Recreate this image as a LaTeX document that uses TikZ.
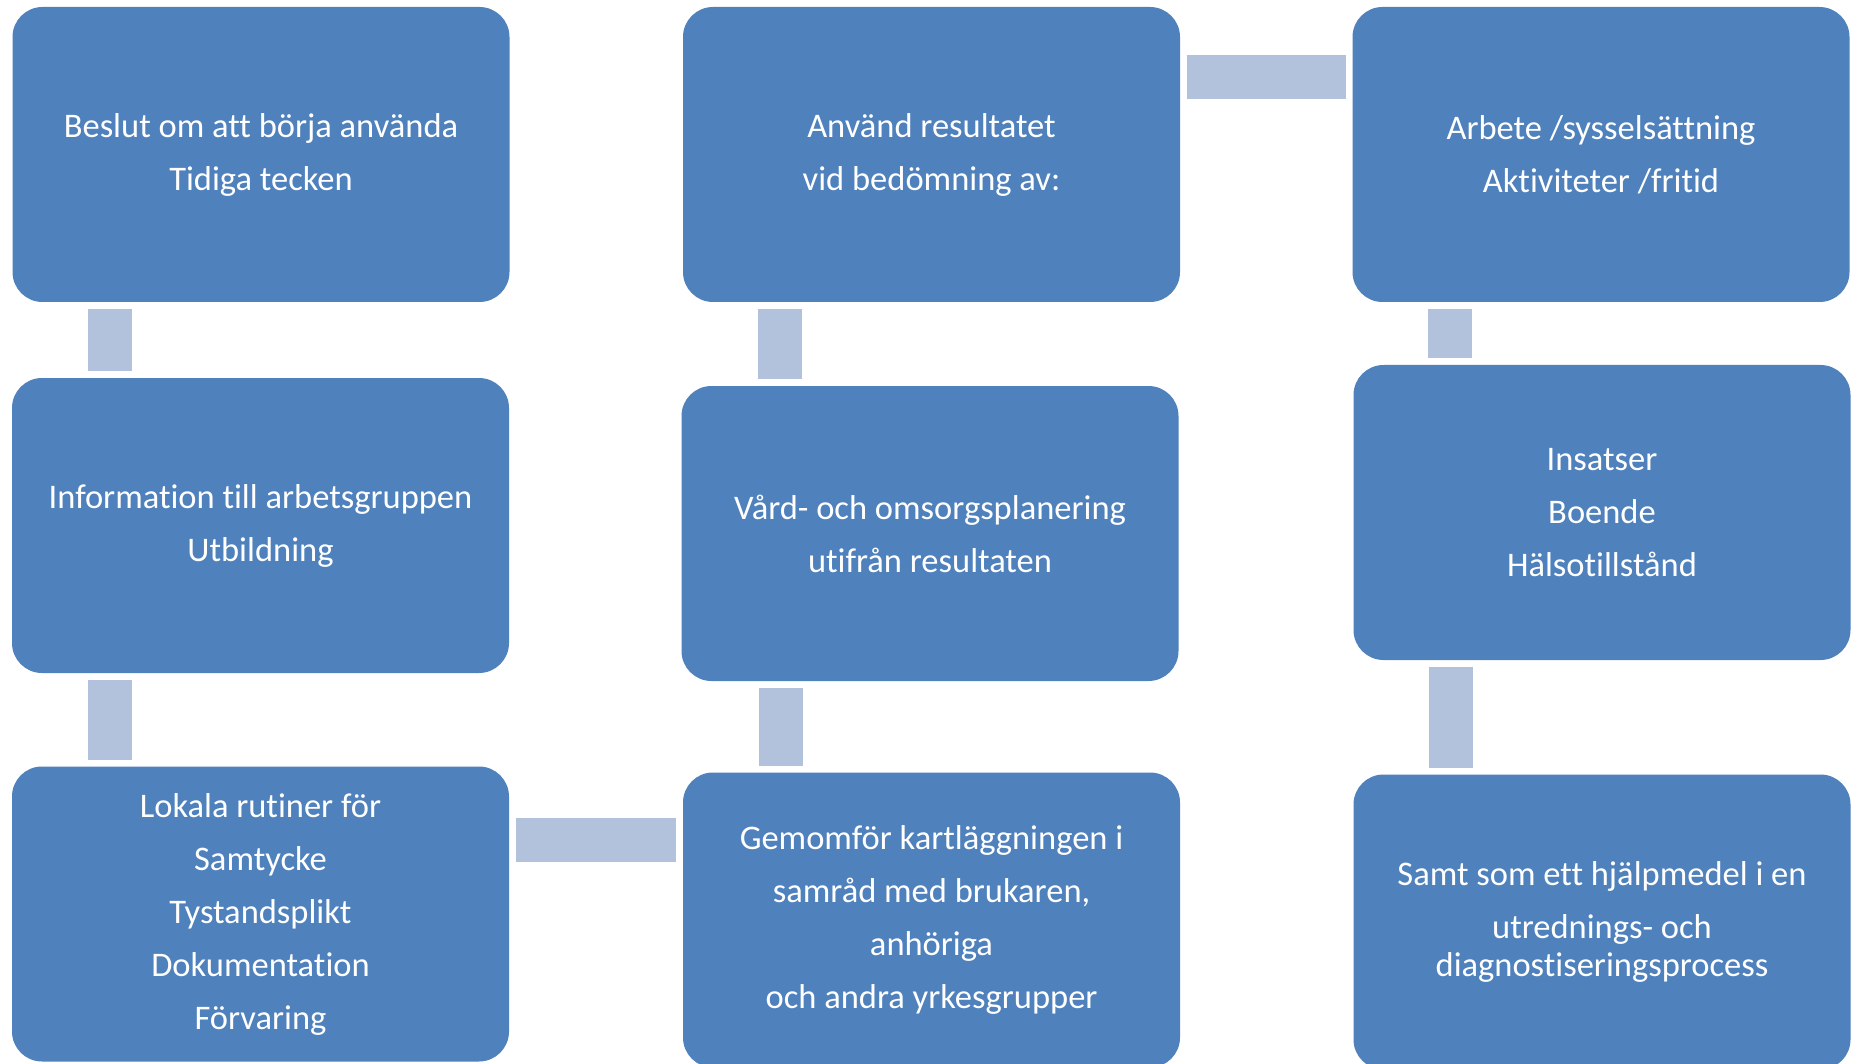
\documentclass[tikz,border=0pt]{standalone}
\usepackage{fontspec}
\setmainfont[Ligatures=NoCommon]{Carlito}
\usetikzlibrary{calc}
\definecolor{boxblue}{HTML}{4F81BD}
\definecolor{connblue}{HTML}{B3C2DC}
\begin{document}
\begin{tikzpicture}[x=1pt,y=-1pt,
  box/.style={fill=boxblue, draw=none, rounded corners=30pt, minimum width=497pt, minimum height=295pt,
    align=center, text=white, font=\fontsize{34.5}{53}\selectfont, inner sep=0pt},
  conn/.style={draw=connblue, line width=44pt, line cap=butt, shorten <=6.5pt, shorten >=6.5pt}]
\useasboundingbox (0,0) rectangle (1852,1064);
\fill[white] (0,0) rectangle (1852,1064);
\node[box] (b1) at (261,154.5) {Beslut om att börja använda\\Tidiga tecken};
\node[box] (b2) at (260.5,525.5) {Information till arbetsgruppen\\Utbildning};
\node[box] (b3) at (260.5,914) {Lokala rutiner för\\Samtycke\\Tystandsplikt\\Dokumentation\\Förvaring};
\node[box] (b4) at (931.5,154.5) {Använd resultatet\\vid bedömning av:};
\node[box] (b5) at (930,533.5) {Vård- och omsorgsplanering\\utifrån resultaten};
\node[box] (b6) at (931.5,920) {Gemomför kartläggningen i\\samråd med brukaren,\\anhöriga\\och andra yrkesgrupper};
\node[box] (b7) at (1601,154.5) {Arbete /sysselsättning\\Aktiviteter /fritid};
\node[box] (b8) at (1602,512.5) {Insatser\\Boende\\Hälsotillstånd};
\node[box] (b9) at (1602,922) {Samt som ett hjälpmedel i en\\utrednings- och\\[-15pt]diagnostiseringsprocess};
% connectors
\coordinate (c1) at ([xshift=98pt]b1.south west);
\draw[conn] (c1) -- (c1 |- b2.north);
\coordinate (c2) at ([xshift=98pt]b2.south west);
\draw[conn] (c2) -- (c2 |- b3.north);
\coordinate (c3) at ([yshift=-74pt]b3.north east);
\draw[conn] (c3) -- (c3 -| b6.west);
\coordinate (c4) at ([xshift=98pt]b6.north west);
\draw[conn] (c4) -- (c4 |- b5.south);
\coordinate (c5) at ([xshift=99pt]b5.north west);
\draw[conn] (c5) -- (c5 |- b4.south);
\coordinate (c6) at ([yshift=-70.5pt]b4.north east);
\draw[conn] (c6) -- (c6 -| b7.west);
\coordinate (c7) at ([xshift=98pt]b7.south west);
\draw[conn] (c7) -- (c7 |- b8.north);
\coordinate (c8) at ([xshift=98pt]b8.south west);
\draw[conn] (c8) -- (c8 |- b9.north);
\end{tikzpicture}
\end{document}
